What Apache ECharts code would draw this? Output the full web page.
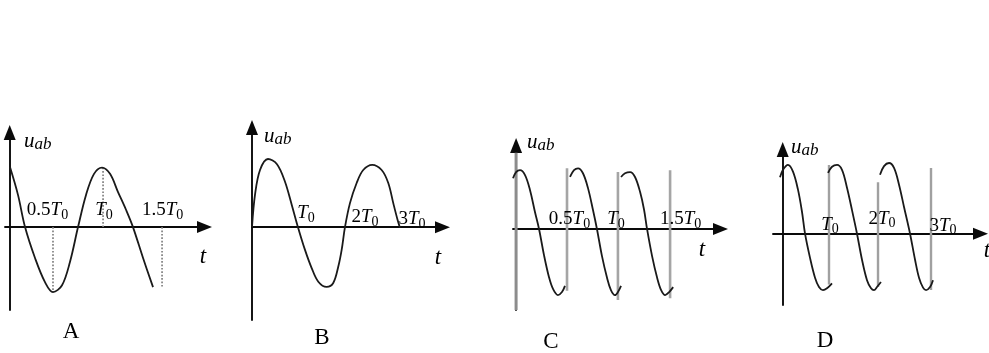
<!DOCTYPE html>
<html><head><meta charset="utf-8">
<script src="https://cdn.jsdelivr.net/npm/echarts@6/dist/echarts.min.js"></script>
<style>html,body{margin:0;padding:0;background:#fff}#c{width:989px;height:353px}</style>
</head><body><div id="c"></div>
<script>
// ---- data: t in units of T0, u in units of the peak value ----
const curveA = [[0.003,0.97],[0.088,0.52],[0.163,0],[0.269,-0.50],[0.375,-0.89],[0.46,-1.05],[0.556,-0.94],[0.641,-0.56],[0.726,0],[0.811,0.52],[0.896,0.86],[0.981,0.96],[1.066,0.86],[1.15,0.57],[1.236,0.28],[1.31,0],[1.417,-0.50],[1.523,-0.97]];
const curveB = [[0,0],[0.061,0.50],[0.162,0.88],[0.323,1.05],[0.505,0.97],[0.667,0.70],[0.808,0.33],[0.929,0],[1.071,-0.35],[1.206,-0.63],[1.34,-0.84],[1.509,-0.92],[1.642,-0.86],[1.743,-0.61],[1.812,-0.35],[1.879,0],[1.98,0.37],[2.115,0.68],[2.248,0.88],[2.43,0.96],[2.62,0.88],[2.754,0.68],[2.855,0.37],[2.943,0.11],[2.99,-0.01]];
const curveC1 = [[-0.03,0.82],[0,0.92],[0.038,0.95],[0.087,0.87],[0.135,0.63],[0.184,0.27],[0.223,0],[0.271,-0.42],[0.32,-0.78],[0.359,-0.97],[0.407,-1.07],[0.446,-1.02],[0.475,-0.92]];
const curveC2 = [[0.524,0.84],[0.563,0.95],[0.602,0.98],[0.65,0.90],[0.699,0.66],[0.747,0.31],[0.786,0],[0.835,-0.44],[0.884,-0.79],[0.922,-0.99],[0.961,-1.07],[0.99,-1.02],[1.02,-0.92]];
const curveC3 = [[1.02,0.84],[1.059,0.90],[1.108,0.92],[1.156,0.84],[1.205,0.60],[1.244,0.31],[1.273,0],[1.322,-0.44],[1.371,-0.79],[1.41,-0.99],[1.449,-1.07],[1.488,-1.02],[1.527,-0.94]];
const curveD1 = [[-0.056,0.91],[0.006,1.03],[0.109,1.11],[0.212,1.00],[0.315,0.71],[0.398,0.35],[0.46,0],[0.563,-0.39],[0.666,-0.71],[0.748,-0.86],[0.83,-0.91],[0.913,-0.88],[1.016,-0.80]];
const curveD2 = [[0.933,0.98],[1.016,1.08],[1.119,1.11],[1.222,1.03],[1.325,0.74],[1.428,0.38],[1.531,0],[1.634,-0.42],[1.737,-0.75],[1.82,-0.88],[1.881,-0.91],[1.943,-0.86],[2.025,-0.78]];
const curveD3 = [[2.005,0.95],[2.088,1.09],[2.191,1.14],[2.294,1.06],[2.397,0.79],[2.5,0.43],[2.624,0],[2.727,-0.42],[2.809,-0.71],[2.892,-0.87],[2.954,-0.91],[3.036,-0.86],[3.098,-0.75]];

// dotted guide lines in A (from the axis to the curve)
const dotA_t = [0.46, 0.992, 1.619];
const dotA_u = [-1.05, 0.96, -0.97];

// vertical jump lines in C and D
const jumpC_t = [0.495, 0.99, 1.497];
const jumpC_top = [0.98, 0.92, 0.95];
const jumpC_bot = [-1.0, -1.15, -1.12];
const jumpD_t = [0.954, 1.964, 3.056];
const jumpD_top = [1.11, 0.83, 1.06];
const jumpD_bot = [-0.82, -0.86, -0.91];
const axisC_u = [-1.31, 1.23];

// tick positions (T0 units) and tick label coefficients
const tickA = [0.46, 0.992, 1.619];  const tickLabA = ['0.5', '', '1.5'];
const tickB = [0.93, 1.88, 2.99];    const tickLabB = ['', '2', '3'];
const tickC = [0.495, 0.99, 1.497];  const tickLabC = ['0.5', '', '1.5'];
const tickD = [0.954, 1.964, 3.056]; const tickLabD = ['', '2', '3'];
const panelNames = ['A', 'B', 'C', 'D'];

// ---- layout / style ----
const SERIF = 'Liberation Serif';
const INK = '#000';
const panels = [
  {grid:{left:5,   top:132.4, width:199.5, height:177.6}, x:[-0.05,2.07], y:[-1.34,1.53],  ticks:tickA, labs:tickLabA, off:[[-5.5,-17],[1,-17],[0.5,-17]]},
  {grid:{left:252, top:127.5, width:190.5, height:192.5}, x:[0,3.85],     y:[-1.43,1.535], ticks:tickB, labs:tickLabB, off:[[8,-14],[20,-10],[12,-8]]},
  {grid:{left:513, top:145.5, width:207.5, height:164.5}, x:[-0.03,1.987],y:[-1.31,1.349], ticks:tickC, labs:tickLabC, off:[[2.5,-10],[-2,-10],[10.5,-10]]},
  {grid:{left:773, top:149.5, width:207.5, height:155.5}, x:[-0.2,4.076], y:[-1.15,1.358], ticks:tickD, labs:tickLabD, off:[[1,-9],[4,-15],[12,-8]]}
];

const axisLine = {show:true, onZero:true, symbol:['none','triangle'], symbolSize:[12,15], lineStyle:{color:'#0a0a0a', width:1.9}};
const grids = [], xAxes = [], yAxes = [], series = [];
panels.forEach((p, i) => {
  grids.push(Object.assign({containLabel:false}, p.grid));
  xAxes.push({type:'value', gridIndex:i, min:p.x[0], max:p.x[1], axisLine:axisLine, axisTick:{show:false}, axisLabel:{show:false}, splitLine:{show:false}});
  yAxes.push({type:'value', gridIndex:i, min:p.y[0], max:p.y[1], axisLine:axisLine, axisTick:{show:false}, axisLabel:{show:false}, splitLine:{show:false}});
});

function curve(i, data) {
  series.push({type:'line', xAxisIndex:i, yAxisIndex:i, data:data, smooth:0.35, symbol:'none', silent:true,
    lineStyle:{color:'#1a1a1a', width:1.8}, z:3});
}
function seg(i, pts, color, width, type) {
  series.push({type:'line', xAxisIndex:i, yAxisIndex:i, data:pts, symbol:'none', silent:true,
    lineStyle:{color:color, width:width, type:type || 'solid'}, z:2});
}
curve(0, curveA); curve(1, curveB);
curve(2, curveC1); curve(2, curveC2); curve(2, curveC3);
curve(3, curveD1); curve(3, curveD2); curve(3, curveD3);
dotA_t.forEach((t, k) => seg(0, [[t, 0], [t, dotA_u[k]]], '#808080', 1.7, 'dotted'));
jumpC_t.forEach((t, k) => seg(2, [[t, jumpC_bot[k]], [t, jumpC_top[k]]], '#a5a5a5', 2.6));
jumpD_t.forEach((t, k) => seg(3, [[t, jumpD_bot[k]], [t, jumpD_top[k]]], '#a0a0a0', 2.4));
seg(2, [[0, axisC_u[0]], [0, axisC_u[1]]], '#8c8c8c', 3);

const tickRich = {
  n:{fontFamily:SERIF, fontSize:19, lineHeight:24, verticalAlign:'middle', color:INK, textBorderWidth:0},
  i:{fontFamily:SERIF, fontSize:19, fontStyle:'italic', lineHeight:24, verticalAlign:'middle', color:INK, textBorderWidth:0},
  s:{fontFamily:SERIF, fontSize:14, lineHeight:12, verticalAlign:'bottom', color:INK, textBorderWidth:0}
};
panels.forEach((p, i) => {
  series.push({type:'scatter', xAxisIndex:i, yAxisIndex:i, symbolSize:1, silent:true, z:5,
    itemStyle:{color:'rgba(255,255,255,0)'},
    data:p.ticks.map((t, k) => ({value:[t, 0], name:p.labs[k], label:{offset:p.off[k]}})),
    label:{show:true, position:'inside', color:INK, textBorderWidth:0, textBorderColor:'transparent', opacity:1, rich:tickRich,
      formatter: d => (d.name ? '{n|' + d.name + '}' : '') + '{i|T}{s|0}'}});
});

// axis names and panel letters
const uRich = {
  u:{fontFamily:SERIF, fontSize:21, fontStyle:'italic', lineHeight:24, verticalAlign:'middle', fill:INK},
  s:{fontFamily:SERIF, fontSize:17, fontStyle:'italic', lineHeight:14, verticalAlign:'bottom', fill:INK}
};
const uPos = [[24,141],[264,136],[527,142],[791,147]];
const tPos = [[203,257],[438,258],[702,250],[987,251]];
const letterPos = [[71,332],[322,338],[551,342],[825,341]];
const graphic = [];
uPos.forEach(p => graphic.push({type:'text', x:p[0], y:p[1], silent:true,
  style:{text:'{u|u}{s|ab}', rich:uRich, align:'left', verticalAlign:'middle', fill:INK}}));
tPos.forEach(p => graphic.push({type:'text', x:p[0], y:p[1], silent:true,
  style:{text:'t', fontFamily:SERIF, fontSize:23, fontStyle:'italic', align:'center', verticalAlign:'middle', fill:INK}}));
letterPos.forEach((p, k) => graphic.push({type:'text', x:p[0], y:p[1], silent:true,
  style:{text:panelNames[k], fontFamily:SERIF, fontSize:23, align:'center', verticalAlign:'middle', fill:INK}}));

const chart = echarts.init(document.getElementById('c'), null, {renderer:'canvas'});
chart.setOption({animation:false, backgroundColor:'#fff', grid:grids, xAxis:xAxes, yAxis:yAxes, series:series, graphic:graphic});
</script></body></html>
